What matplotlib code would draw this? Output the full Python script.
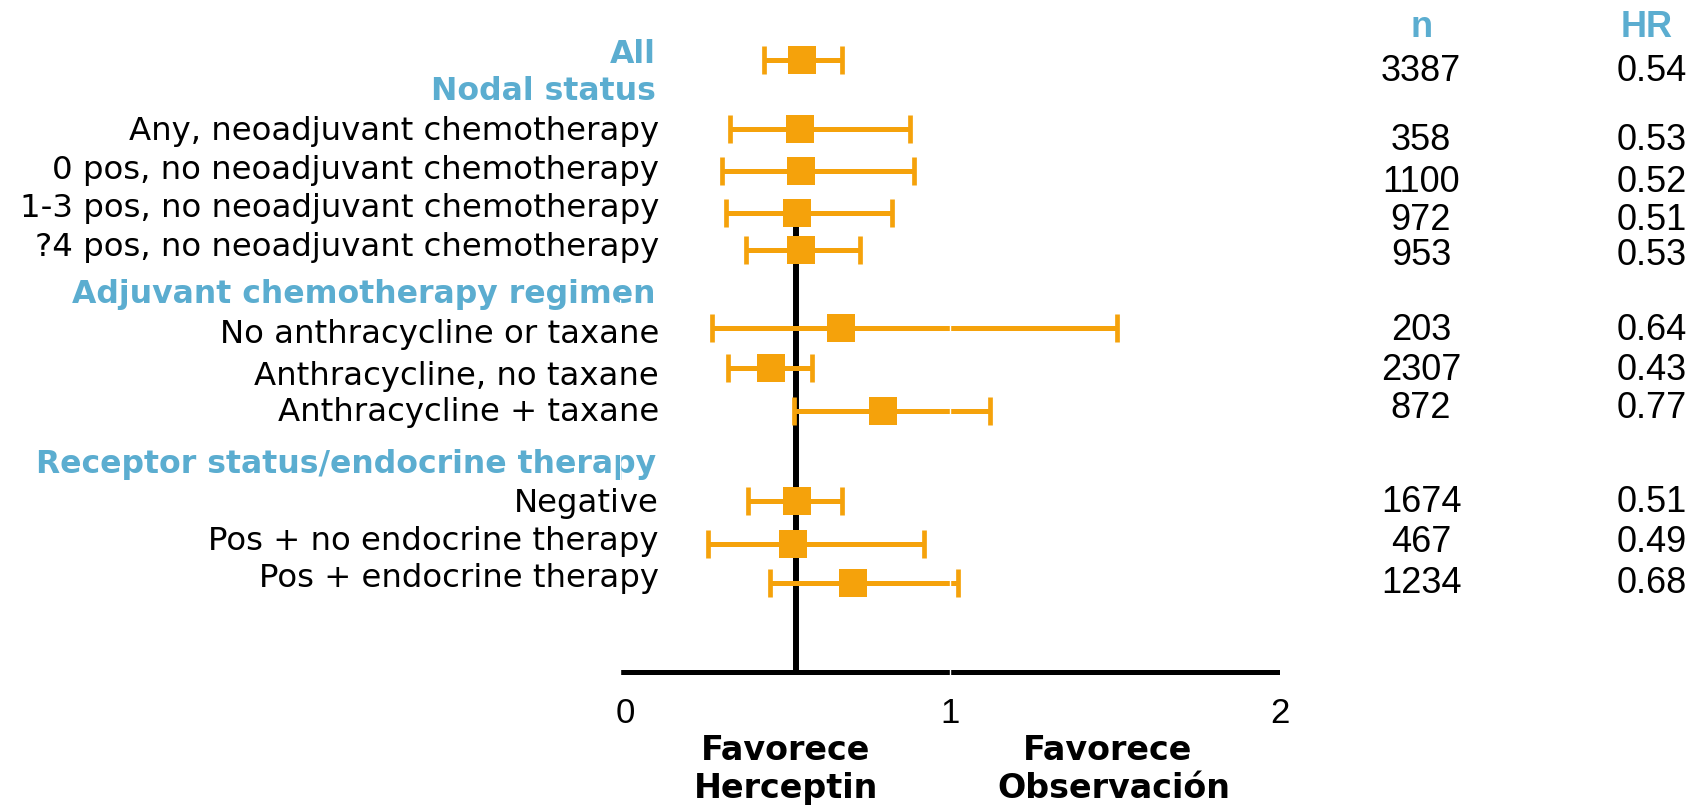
import matplotlib
matplotlib.use("Agg")
import matplotlib.pyplot as plt

# ---------------- data ----------------
row_labels = ["All", "Any, neoadjuvant chemotherapy", "0 pos, no neoadjuvant chemotherapy",
              "1-3 pos, no neoadjuvant chemotherapy", "?4 pos, no neoadjuvant chemotherapy",
              "No anthracycline or taxane", "Anthracycline, no taxane", "Anthracycline + taxane",
              "Negative", "Pos + no endocrine therapy", "Pos + endocrine therapy"]
n_values = ["3387", "358", "1100", "972", "953", "203", "2307", "872", "1674", "467", "1234"]
hr_values = ["0.54", "0.53", "0.52", "0.51", "0.53", "0.64", "0.43", "0.77", "0.51", "0.49", "0.68"]
est = [0.550, 0.544, 0.547, 0.535, 0.547, 0.671, 0.459, 0.798, 0.535, 0.523, 0.705]
ci_low = [0.436, 0.333, 0.309, 0.321, 0.383, 0.279, 0.328, 0.527, 0.388, 0.267, 0.455]
ci_high = [0.673, 0.879, 0.892, 0.824, 0.728, 1.505, 0.583, 1.120, 0.674, 0.921, 1.025]
group_headers = ["Nodal status", "Adjuvant chemotherapy regimen", "Receptor status/endocrine therapy"]
ref_value = 0.533
x_ticks = [0, 1, 2]
bottom_left = ["Favorece", "Herceptin"]
bottom_right = ["Favorece", "Observación"]

# ---------------- layout (pixel rows of the 1700x810 canvas) ----------------
marker_y = [60, 128.5, 170.5, 212.5, 249.5, 327.5, 367.5, 410.5, 500.5, 543.5, 582.5]
label_y = [63.3, 140, 179.3, 217.3, 256, 343.3, 385, 420.7, 511.7, 550, 587.3]
value_y = [81, 150, 191.7, 230, 265, 340, 380, 418.3, 511.7, 551.7, 593.3]
header_y = [100, 303, 473.3]

BLUE = "#5BADD0"
ORANGE = "#F5A20B"

W, H = 1700, 810
fig = plt.figure(figsize=(17, 8.1), dpi=100)
x0_px, x2_px = 620, 1280
ax = fig.add_axes([x0_px / W, 0, (x2_px - x0_px) / W, 1])
ax.set_xlim(0, 2)
ax.set_ylim(H, 0)
ax.axis("off")

px = (x2_px - x0_px) / 2.0  # pixels per unit


def xd(p):
    return (p - x0_px) / px


# axis line and reference line
ax.plot([0, 2], [672, 672], color="black", lw=3.6, solid_capstyle="round", zorder=2)
ax.plot([ref_value, ref_value], [215, 672], color="black", lw=4.3, solid_capstyle="butt", zorder=2)

# error bars and markers
for i in range(len(est)):
    _, caps, _ = ax.errorbar(est[i], marker_y[i],
                             xerr=[[est[i] - ci_low[i]], [ci_high[i] - est[i]]],
                             fmt="none", ecolor=ORANGE, elinewidth=3.6, capsize=9.8,
                             capthick=3.4, zorder=3)
ax.plot(est, marker_y, linestyle="none", marker="s", markersize=20,
        markerfacecolor=ORANGE, markeredgewidth=0, zorder=4)

# white gridline marks at 0 and 1
for xv in (0, 1):
    ax.plot([xv, xv], [300, 674], color="white", lw=1.0, zorder=5)

# row labels
for i, lab in enumerate(row_labels):
    if i == 0:
        ax.text(xd(656), label_y[i], lab, ha="right", va="baseline", color=BLUE,
                fontsize=22.7, fontweight="bold", family="DejaVu Sans")
    else:
        ax.text(xd(659), label_y[i], lab, ha="right", va="baseline", color="black",
                fontsize=23.3, family="DejaVu Sans")
for lab, y in zip(group_headers, header_y):
    ax.text(xd(656), y, lab, ha="right", va="baseline", color=BLUE,
            fontsize=22.7, fontweight="bold", family="DejaVu Sans")

# n and HR columns
ax.text(xd(1421.5), 36.7, "n", ha="center", va="baseline", color=BLUE,
        fontsize=26, fontweight="bold", family="Liberation Sans")
ax.text(xd(1647), 36.7, "HR", ha="center", va="baseline", color=BLUE,
        fontsize=26, fontweight="bold", family="Liberation Sans")
for nv, hv, y in zip(n_values, hr_values, value_y):
    ax.text(xd(1421), y, nv, ha="center", va="baseline", color="black",
            fontsize=26, family="Liberation Sans")
    ax.text(xd(1617), y, hv, ha="left", va="baseline", color="black",
            fontsize=26, family="Liberation Sans")

# tick labels
for t in x_ticks:
    ax.text(t + (0.015 if t == 0 else 0), 723.3, str(t), ha="center", va="baseline",
            color="black", fontsize=25, family="Liberation Sans")

# bottom captions
for j, s in enumerate(bottom_left):
    ax.text(xd(786), 760 + 38 * j, s, ha="center", va="baseline", color="black",
            fontsize=24, fontweight="bold", family="DejaVu Sans")
for j, s in enumerate(bottom_right):
    ax.text(xd(1108 + 6 * j), 760 + 38 * j, s, ha="center", va="baseline", color="black",
            fontsize=24, fontweight="bold", family="DejaVu Sans")

fig.savefig("out.png", dpi=100, facecolor="white")
